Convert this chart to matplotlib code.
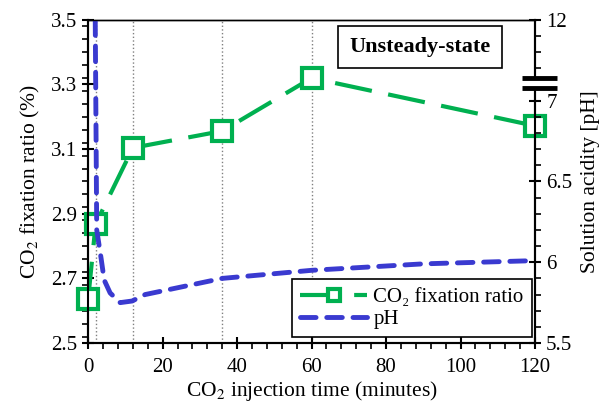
import numpy as np
import matplotlib
matplotlib.use("Agg")
import matplotlib.pyplot as plt
from matplotlib.ticker import MultipleLocator, FixedLocator, NullFormatter

plt.rcParams['font.family'] = ['Liberation Serif', 'DejaVu Serif']
plt.rcParams['mathtext.fontset'] = 'stix'

# CO2 fixation ratio (%) vs injection time
time_fix = [0, 2, 12, 36, 60, 120]
fix_ratio = [2.636, 2.868, 3.104, 3.156, 3.32, 3.172]

# solution pH vs injection time
time_ph = [1.9, 2.3, 3.5, 4.3, 5.9, 8.6, 11.8, 15.3, 36, 60, 90, 120]
ph_vals = [12.0, 6.20, 6.02, 5.89, 5.81, 5.75, 5.76, 5.80, 5.90, 5.95, 5.99, 6.01]

sample_times = [2, 12, 36, 60]

green = '#00B050'
blue = '#3A3AD0'


# broken pH axis: everything above 7 is squeezed 10x
def fwd(v):
    v = np.asarray(v, dtype=float)
    return np.where(v <= 7, v, 7 + (v - 7) * 0.1)


def inv(v):
    v = np.asarray(v, dtype=float)
    return np.where(v <= 7, v, 7 + (v - 7) / 0.1)


fig = plt.figure(figsize=(6.08, 4.05), dpi=100)
ax = fig.add_axes([0.145, 0.153, 0.735, 0.798])
ax2 = ax.twinx()

for t in sample_times:
    ax.axvline(t, color='gray', ls=':', lw=1, zorder=0)

l1, = ax.plot(time_fix, fix_ratio, color=green, lw=3, dashes=(9, 4),
              marker='s', ms=14, mfc='white', mec=green, mew=3,
              zorder=3, clip_on=False)
l2, = ax2.plot(time_ph, ph_vals, color=blue, lw=3.5, dashes=(3.2, 2.2),
               dash_capstyle='round', zorder=2)

ax.set_xlim(0, 120)
ax.set_ylim(2.5, 3.5)
ax.xaxis.set_major_locator(MultipleLocator(20))
ax.xaxis.set_minor_locator(MultipleLocator(4))
ax.yaxis.set_minor_locator(MultipleLocator(0.04))
ax.set_yticks([2.5, 2.7, 2.9, 3.1, 3.3, 3.5])
ax.set_yticklabels(['2.5', '2.7', '2.9', '3.1', '3.3', '3.5'])

ax2.set_yscale('function', functions=(fwd, inv))
ax2.set_ylim(5.5, 12)
ax2.yaxis.set_major_locator(FixedLocator([5.5, 6, 6.5, 7, 12]))
ax2.set_yticklabels(['5.5', '6', '6.5', '7', '12'])
ax2.yaxis.set_minor_locator(FixedLocator(list(np.round(np.arange(5.6, 7.0, 0.1), 1)) + [9, 10, 11]))
ax2.yaxis.set_minor_formatter(NullFormatter())

for a in (ax, ax2):
    a.tick_params(which='major', direction='inout', length=9, width=1.5, labelsize=15)
    a.tick_params(which='minor', direction='out', length=4, width=1.2)
    for s in a.spines.values():
        s.set_linewidth(1.5)
ax.spines['top'].set_linewidth(1.0)
ax2.spines['top'].set_linewidth(1.0)
ax.tick_params(axis='x', pad=6)
ax.tick_params(axis='y', right=False)

ax.set_xlabel('CO$_2$ injection time (minutes)', fontsize=15.5, labelpad=2)
ax.set_ylabel('CO$_2$ fixation ratio (%)', fontsize=15.5, labelpad=6)
ax2.set_ylabel('Solution acidity [pH]', fontsize=15.5, labelpad=6)

# axis break marks on the right axis
ax2.fill_between([0.971, 1.049], 0.789, 0.820, transform=ax2.transAxes,
                 color='white', clip_on=False, zorder=10)
for yb in (0.789, 0.820):
    ax2.plot([0.971, 1.049], [yb, yb], transform=ax2.transAxes, color='black',
             lw=3.5, clip_on=False, solid_capstyle='butt', zorder=11)

ax2.text(0.743, 0.916, 'Unsteady-state', transform=ax2.transAxes, ha='center', va='center',
         fontsize=16, fontweight='bold',
         bbox=dict(boxstyle='square,pad=0.5', fc='white', ec='black', lw=1.2), zorder=12)

leg = ax2.legend([l1, l2], ['CO\u2082 fixation ratio', 'pH'], loc='lower right',
                 bbox_to_anchor=(0.993, 0.018), borderaxespad=0, fontsize=15,
                 fancybox=False, edgecolor='black', framealpha=1, handlelength=3.2,
                 markerscale=0.6, borderpad=0.4, labelspacing=0.1, handletextpad=0.3)
leg.get_frame().set_linewidth(1.2)
leg.set_zorder(12)

fig.savefig('out.png', dpi=100)
